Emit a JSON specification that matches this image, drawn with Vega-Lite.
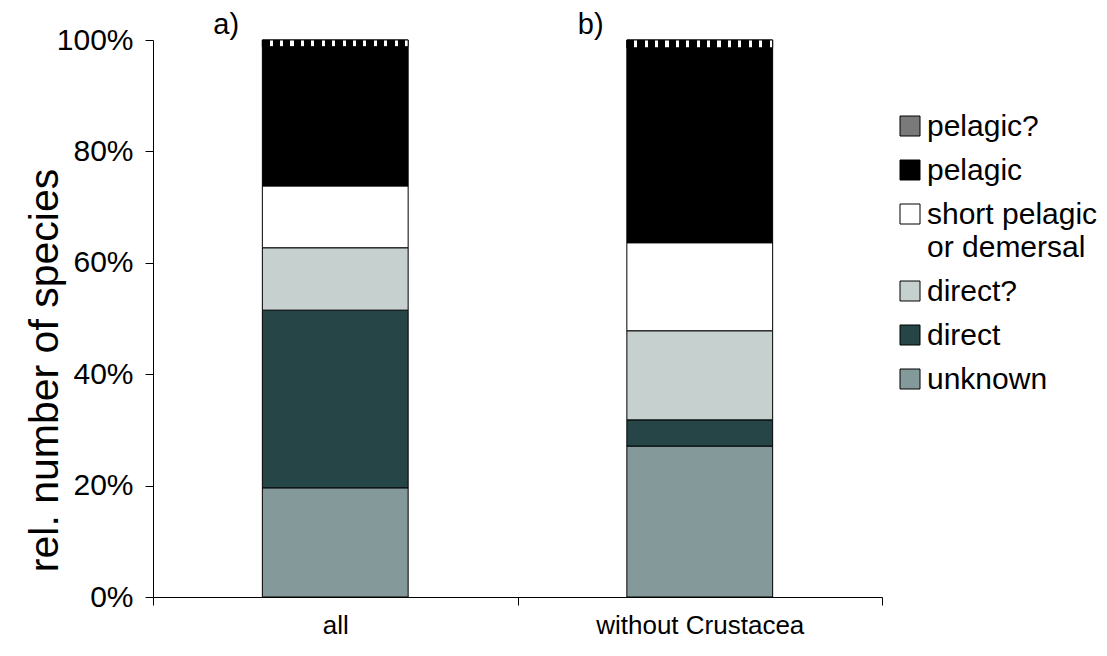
{
  "$schema": "https://vega.github.io/schema/vega-lite/v6.json",
  "width": 729,
  "height": 557,
  "autosize": "none",
  "padding": {"left": 153, "top": 40, "right": 225, "bottom": 59},
  "background": "white",
  "config": {
    "view": {"stroke": null},
    "font": "Liberation Sans",
    "axisY": {
      "domainColor": "black", "tickColor": "black", "tickSize": 8, "grid": false,
      "labelFontSize": 30, "labelColor": "black", "labelPadding": 12, "labelFont": "Liberation Sans",
      "titleFontSize": 41, "titleFont": "Liberation Sans", "titleFontWeight": "normal", "titleColor": "black",
      "titleX": -108, "titleY": 330, "titleAngle": -90, "titleAlign": "center", "titleBaseline": "middle"
    },
    "axisX": {
      "domainColor": "black", "tickColor": "black", "tickSize": 8, "grid": false, "tickBand": "extent",
      "labelFontSize": 26, "labelColor": "black", "labelPadding": 7, "labelFont": "Liberation Sans", "labelAngle": 0, "labelLimit": 0
    },
    "legend": {
      "orient": "none", "legendX": 742, "legendY": 71,
      "symbolType": "square", "symbolSize": 400, "symbolStrokeColor": "black", "symbolStrokeWidth": 1,
      "labelFontSize": 30, "labelColor": "black", "labelFont": "Liberation Sans", "labelOffset": 2, "labelLimit": 0,
      "rowPadding": 13, "labelBaseline": "alphabetic"
    }
  },
  "datasets": {
    "bars": [
      {"group": "all", "cls": "unknown", "rank": 1, "pct": 19.6},
      {"group": "all", "cls": "direct", "rank": 2, "pct": 31.9},
      {"group": "all", "cls": "direct?", "rank": 3, "pct": 11.2},
      {"group": "all", "cls": "short pelagic or demersal", "rank": 4, "pct": 11.1},
      {"group": "all", "cls": "pelagic", "rank": 5, "pct": 25.0},
      {"group": "all", "cls": "pelagic?", "rank": 6, "pct": 1.2},
      {"group": "without Crustacea", "cls": "unknown", "rank": 1, "pct": 27.1},
      {"group": "without Crustacea", "cls": "direct", "rank": 2, "pct": 4.7},
      {"group": "without Crustacea", "cls": "direct?", "rank": 3, "pct": 16.0},
      {"group": "without Crustacea", "cls": "short pelagic or demersal", "rank": 4, "pct": 15.8},
      {"group": "without Crustacea", "cls": "pelagic", "rank": 5, "pct": 35.0},
      {"group": "without Crustacea", "cls": "pelagic?", "rank": 6, "pct": 1.4}
    ],
    "notes": [
      {"group": "all", "note": "a)"},
      {"group": "without Crustacea", "note": "b)"}
    ]
  },
  "layer": [
    {
      "data": {"name": "bars"},
      "transform": [
        {"stack": "pct", "groupby": ["group"], "sort": [{"field": "rank", "order": "ascending"}], "as": ["y0", "y1"]}
      ],
      "mark": {"type": "bar", "stroke": "black", "strokeWidth": 1, "width": {"band": 0.4}},
      "encoding": {
        "x": {"field": "group", "type": "nominal", "sort": ["all", "without Crustacea"],
              "scale": {"paddingInner": 0, "paddingOuter": 0}, "axis": {"title": null}},
        "y": {"field": "y0", "type": "quantitative", "scale": {"domain": [0, 100]},
              "axis": {"title": "rel. number of species", "values": [0, 20, 40, 60, 80, 100], "labelExpr": "datum.value + '%'"}},
        "y2": {"field": "y1"},
        "color": {
          "field": "cls", "type": "nominal",
          "scale": {
            "domain": ["pelagic?", "pelagic", "short pelagic or demersal", "direct?", "direct", "unknown"],
            "range": ["#7a7a7a", "#000000", "#ffffff", "#c5d0cf", "#254546", "#83999a"]
          },
          "legend": {
            "title": null,
            "labelExpr": "datum.label == 'short pelagic or demersal' ? ['short pelagic', 'or demersal'] : datum.label",
            "encode": {"labels": {"update": {"dy": {"value": 10}, "lineHeight": {"value": 33}}}}
          }
        }
      }
    },
    {
      "data": {"name": "bars"},
      "transform": [
        {"stack": "pct", "groupby": ["group"], "sort": [{"field": "rank", "order": "ascending"}], "as": ["y0", "y1"]},
        {"filter": "datum.cls == 'pelagic?'"}
      ],
      "mark": {
        "type": "bar", "stroke": "black", "strokeWidth": 1, "width": {"band": 0.4},
        "fill": {
          "gradient": "linear", "x1": 0, "y1": 0, "x2": 1, "y2": 0,
          "stops": [
            {"offset": 0, "color": "black"}, {"offset": 0.05, "color": "black"}, {"offset": 0.05, "color": "white"}, {"offset": 0.0714, "color": "white"},
            {"offset": 0.0714, "color": "black"}, {"offset": 0.1214, "color": "black"}, {"offset": 0.1214, "color": "white"}, {"offset": 0.1429, "color": "white"},
            {"offset": 0.1429, "color": "black"}, {"offset": 0.1929, "color": "black"}, {"offset": 0.1929, "color": "white"}, {"offset": 0.2143, "color": "white"},
            {"offset": 0.2143, "color": "black"}, {"offset": 0.2643, "color": "black"}, {"offset": 0.2643, "color": "white"}, {"offset": 0.2857, "color": "white"},
            {"offset": 0.2857, "color": "black"}, {"offset": 0.3357, "color": "black"}, {"offset": 0.3357, "color": "white"}, {"offset": 0.3571, "color": "white"},
            {"offset": 0.3571, "color": "black"}, {"offset": 0.4071, "color": "black"}, {"offset": 0.4071, "color": "white"}, {"offset": 0.4286, "color": "white"},
            {"offset": 0.4286, "color": "black"}, {"offset": 0.4786, "color": "black"}, {"offset": 0.4786, "color": "white"}, {"offset": 0.5, "color": "white"},
            {"offset": 0.5, "color": "black"}, {"offset": 0.55, "color": "black"}, {"offset": 0.55, "color": "white"}, {"offset": 0.5714, "color": "white"},
            {"offset": 0.5714, "color": "black"}, {"offset": 0.6214, "color": "black"}, {"offset": 0.6214, "color": "white"}, {"offset": 0.6429, "color": "white"},
            {"offset": 0.6429, "color": "black"}, {"offset": 0.6929, "color": "black"}, {"offset": 0.6929, "color": "white"}, {"offset": 0.7143, "color": "white"},
            {"offset": 0.7143, "color": "black"}, {"offset": 0.7643, "color": "black"}, {"offset": 0.7643, "color": "white"}, {"offset": 0.7857, "color": "white"},
            {"offset": 0.7857, "color": "black"}, {"offset": 0.8357, "color": "black"}, {"offset": 0.8357, "color": "white"}, {"offset": 0.8571, "color": "white"},
            {"offset": 0.8571, "color": "black"}, {"offset": 0.9071, "color": "black"}, {"offset": 0.9071, "color": "white"}, {"offset": 0.9286, "color": "white"},
            {"offset": 0.9286, "color": "black"}, {"offset": 0.9786, "color": "black"}, {"offset": 0.9786, "color": "white"}, {"offset": 1, "color": "white"}
          ]
        }
      },
      "encoding": {
        "x": {"field": "group", "type": "nominal", "sort": ["all", "without Crustacea"], "axis": {"title": null}},
        "y": {"field": "y0", "type": "quantitative", "axis": {"title": "rel. number of species"}},
        "y2": {"field": "y1"}
      }
    },
    {
      "data": {"name": "notes"},
      "mark": {"type": "text", "dx": -109, "dy": -15, "fontSize": 29, "font": "Liberation Sans", "color": "black", "baseline": "middle", "align": "center"},
      "encoding": {
        "x": {"field": "group", "type": "nominal", "sort": ["all", "without Crustacea"], "axis": {"title": null}},
        "y": {"datum": 100},
        "text": {"field": "note"}
      }
    }
  ]
}
